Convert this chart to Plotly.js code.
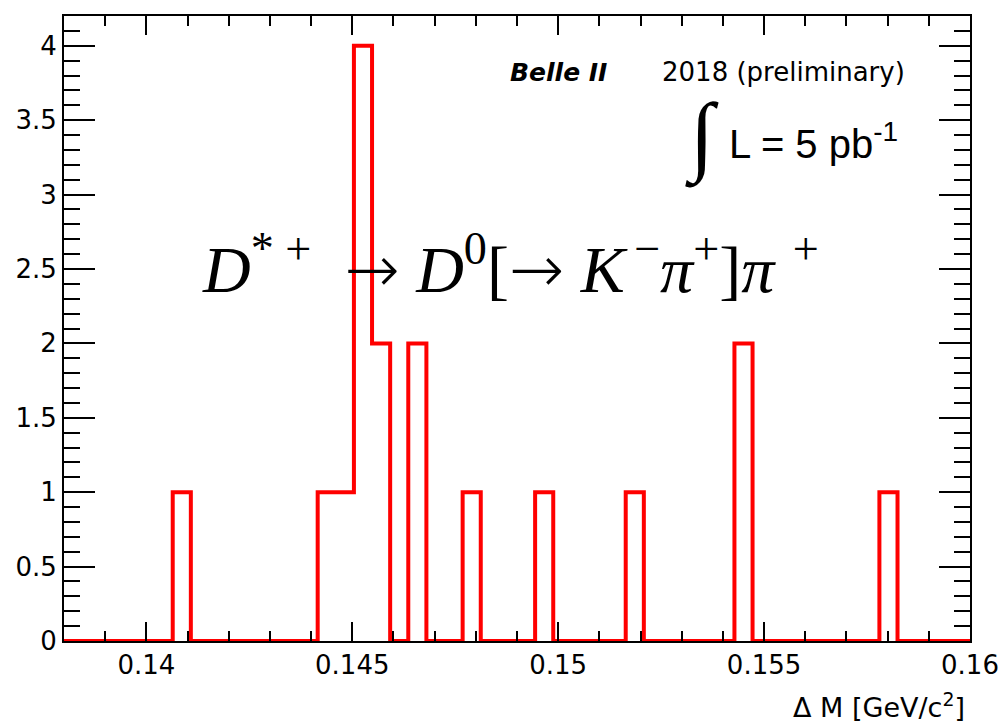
<!DOCTYPE html>
<html>
<head>
<meta charset="utf-8">
<script src="https://cdn.plot.ly/plotly-3.0.1.min.js"></script>
<style>html,body{margin:0;padding:0;background:#fff;}#plot{width:1000px;height:726px;}</style>
</head>
<body>
<div id="plot"></div>
<script>
// Histogram definition: 50 bins from 0.138 to 0.16 (Delta M in GeV/c^2)
const histLow = 0.138;
const histHigh = 0.16;
const counts = [0,0,0,0,0,0,1,0,0,0,
                0,0,0,0,1,1,4,2,0,2,
                0,0,1,0,0,0,1,0,0,0,
                0,1,0,0,0,0,0,2,0,0,
                0,0,0,0,0,1,0,0,0,0];
const xTickVals = [0.14, 0.145, 0.15, 0.155, 0.16];
const yTickVals = [0, 0.5, 1, 1.5, 2, 2.5, 3, 3.5, 4];
const xTitle = "Δ M [GeV/c<sup>2</sup>]";
const labelBelle = "<b><i>Belle II</i></b>";
const labelYear = "2018 (preliminary)";
const labelLumi = "L = 5 pb<sup>-1</sup>";
const arrow = "<span style=\"font-family:'DejaVu Sans';font-weight:200\">→</span>";
const labelDecay = "<i>D</i><sup>* +</sup>  " + arrow + " <i>D</i><sup>0</sup>[" + arrow +
                   " <i>K</i><sup>\u2009−</sup><i>π</i><sup>+</sup>]<i>π</i><sup>\u2009\u2009+</sup>";

const nBins = counts.length;
const binW = (histHigh - histLow) / nBins;
const edges = [];
const stepY = [];
for (let i = 0; i <= nBins; i++) {
  edges.push(histLow + i * binW);
  stepY.push(i < nBins ? counts[i] : counts[nBins - 1]);
}

const trace = {
  type: 'scatter', mode: 'lines', x: edges, y: stepY,
  line: {color: '#ff0000', width: 4, shape: 'hv'},
  hoverinfo: 'x+y', showlegend: false
};

const tickFont = {family: 'DejaVu Sans', size: 26, color: '#000'};
const layout = {
  width: 1000, height: 726,
  margin: {l: 64, r: 30, t: 16, b: 85, pad: 0},
  paper_bgcolor: '#fff', plot_bgcolor: '#fff',
  showlegend: false,
  xaxis: {
    range: [histLow, histHigh], tickmode: 'array', tickvals: xTickVals,
    ticktext: xTickVals.map(String),
    ticks: 'inside', ticklen: 19, tickwidth: 2, tickcolor: '#000',
    showline: true, linewidth: 2, linecolor: '#000', mirror: 'ticks',
    showgrid: false, zeroline: false, tickfont: tickFont,
    minor: {dtick: 0.001, tick0: 0.14, ticks: 'inside', ticklen: 10, tickwidth: 2, tickcolor: '#000', showgrid: false}
  },
  yaxis: {
    range: [0, 4.2], tickmode: 'array', tickvals: yTickVals,
    ticktext: yTickVals.map(String),
    ticks: 'inside', ticklen: 31, tickwidth: 2, tickcolor: '#000',
    showline: true, linewidth: 2, linecolor: '#000', mirror: 'ticks',
    showgrid: false, zeroline: false, tickfont: tickFont,
    minor: {dtick: 0.1, tick0: 0, ticks: 'inside', ticklen: 16, tickwidth: 2, tickcolor: '#000', showgrid: false}
  },
  annotations: [
    {text: xTitle, xref: 'paper', yref: 'paper', x: 0.9967, y: -0.1024, xanchor: 'right', yanchor: 'middle',
     showarrow: false, font: {family: 'DejaVu Sans', size: 27, color: '#000'}},
    {text: labelBelle, xref: 'paper', yref: 'paper', x: 0.490, y: 0.9104, xanchor: 'left', yanchor: 'middle',
     showarrow: false, font: {family: 'DejaVu Sans', size: 25, color: '#000'}},
    {text: labelYear, xref: 'paper', yref: 'paper', x: 0.658, y: 0.9104, xanchor: 'left', yanchor: 'middle',
     showarrow: false, font: {family: 'DejaVu Sans', size: 26, color: '#000'}},
    {text: "∫", xref: 'paper', yref: 'paper', x: 0.7045, y: 0.806, xanchor: 'center', yanchor: 'middle',
     showarrow: false, font: {family: 'Liberation Serif', size: 88, color: '#000'}},
    {text: labelLumi, xref: 'paper', yref: 'paper', x: 0.7318, y: 0.80, xanchor: 'left', yanchor: 'middle',
     showarrow: false, font: {family: 'Liberation Sans', size: 40, color: '#000'}},
    {text: labelDecay, xref: 'paper', yref: 'paper', x: 0.150, y: 0.6016, xanchor: 'left', yanchor: 'middle',
     showarrow: false, font: {family: 'Liberation Serif', size: 66, color: '#000'}}
  ]
};

Plotly.newPlot('plot', [trace], layout, {displayModeBar: false, staticPlot: true});
</script>
</body>
</html>
